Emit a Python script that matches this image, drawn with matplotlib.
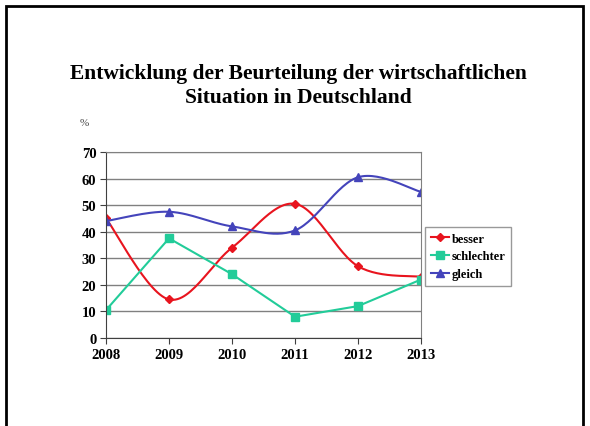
import numpy as np
import matplotlib.pyplot as plt
from matplotlib.patches import Rectangle

years = [2008, 2009, 2010, 2011, 2012, 2013]
besser = [45, 14.5, 34, 50.5, 27, 23]
schlechter = [10.5, 37.5, 24, 8, 12, 22]
gleich = [44, 47.5, 42, 40.5, 60.5, 55]


def smooth(x, y, n=30):
    # Excel-like smoothed line (cubic Bezier, tension 1/6)
    x = np.asarray(x, float)
    y = np.asarray(y, float)
    px, py = [], []
    for i in range(len(x) - 1):
        x0, y0 = (x[i - 1], y[i - 1]) if i > 0 else (x[i], y[i])
        x3, y3 = (x[i + 2], y[i + 2]) if i + 2 < len(x) else (x[i + 1], y[i + 1])
        c1x = x[i] + (x[i + 1] - x0) / 6
        c1y = y[i] + (y[i + 1] - y0) / 6
        c2x = x[i + 1] - (x3 - x[i]) / 6
        c2y = y[i + 1] - (y3 - y[i]) / 6
        t = np.linspace(0, 1, n)
        bx = (1 - t) ** 3 * x[i] + 3 * (1 - t) ** 2 * t * c1x + 3 * (1 - t) * t ** 2 * c2x + t ** 3 * x[i + 1]
        by = (1 - t) ** 3 * y[i] + 3 * (1 - t) ** 2 * t * c1y + 3 * (1 - t) * t ** 2 * c2y + t ** 3 * y[i + 1]
        px.extend(bx)
        py.extend(by)
    return px, py


plt.rcParams['font.family'] = 'Liberation Serif'

fig = plt.figure(figsize=(5.9, 4.27), dpi=100)
ax = fig.add_axes([0.1797, 0.2061, 0.5339, 0.4356])

red = '#E8141E'
green = '#22CC99'
blue = '#4444BB'

sx, sy = smooth(years, besser)
ax.plot(sx, sy, color=red, lw=1.5)
ax.plot(years, besser, ls='none', marker='D', ms=4, color=red)
ax.plot([], [], color=red, marker='D', ms=4, lw=1.5, label='besser')

ax.plot(years, schlechter, color=green, lw=1.5, marker='s', ms=6, label='schlechter')

sx, sy = smooth(years, gleich)
ax.plot(sx, sy, color=blue, lw=1.5)
ax.plot(years, gleich, ls='none', marker='^', ms=6, color=blue)
ax.plot([], [], color=blue, marker='^', ms=6, lw=1.5, label='gleich')

ax.set_xlim(2008, 2013)
ax.set_ylim(0, 70)
ax.set_yticks(range(0, 71, 10))
ax.set_xticks(years)
ax.yaxis.grid(True, color='#808080', lw=1)
ax.set_axisbelow(True)
for s in ax.spines.values():
    s.set_color('#808080')
ax.spines['left'].set_color('#404040')
ax.spines['bottom'].set_color('#404040')
ax.tick_params(length=4, color='#404040', labelsize=10.5, pad=3)
for lab in ax.get_xticklabels() + ax.get_yticklabels():
    lab.set_fontweight('bold')

leg = ax.legend(loc='upper left', frameon=True, borderaxespad=0,
                fancybox=False, edgecolor='#808080', handlelength=1.5,
                handletextpad=0.2, borderpad=0.45, labelspacing=0.45,
                prop={'weight': 'bold', 'size': 9})
leg.set_bbox_to_anchor((425 / 590, 1 - 228 / 427), transform=fig.transFigure)

fig.text(0.505, 1 - 86 / 427, 'Entwicklung der Beurteilung der wirtschaftlichen\nSituation in Deutschland',
         ha='center', va='center', fontsize=15.5, fontweight='bold', linespacing=1.24)
fig.text(80 / 590, 1 - 124 / 427, '%', fontsize=8, color='#444444', va='center')

fig.add_artist(Rectangle((6 / 590, -0.05), 577 / 590, 1 - 7 / 427 + 0.05,
                         transform=fig.transFigure, fill=False, lw=2, ec='black'))

fig.savefig('out.png', dpi=100)
